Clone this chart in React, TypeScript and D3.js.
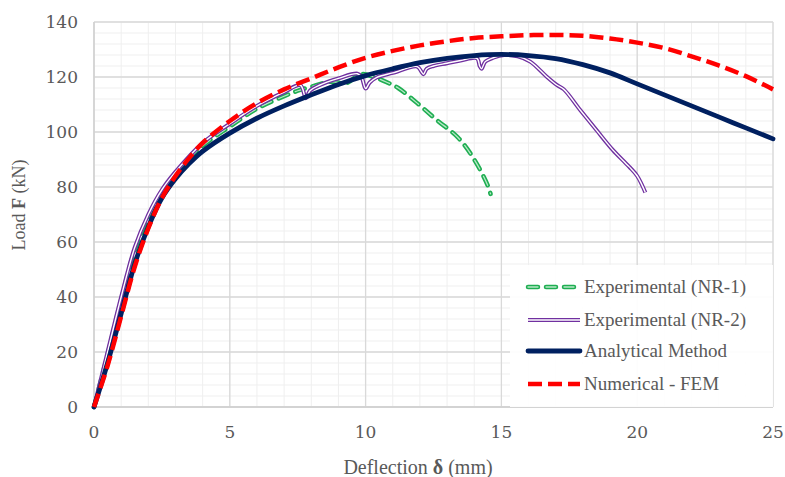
import React from "react";
import * as d3 from "d3";

type P = [number, number];

const xTicks = [0, 5, 10, 15, 20, 25];
const yTicks = [0, 20, 40, 60, 80, 100, 120, 140];

const nr1: P[] = [
  [0, 0], [0.5, 19], [1, 39], [1.5, 57], [2, 69], [2.5, 78], [3, 85], [4, 95], [5, 102],
  [6, 108.5], [7, 113], [7.5, 115], [8, 116.5], [8.7, 118.3], [9.3, 117.8], [9.8, 121],
  [10.3, 120], [10.8, 118], [11.2, 116], [11.9, 110.5], [12.6, 104.5], [13.4, 98], [14, 90],
  [14.5, 80.5], [14.6, 77.5],
];

const nr2: P[] = [
  [0, 0], [0.5, 20], [1, 40], [1.5, 58], [2, 70], [2.5, 79], [3, 85.5], [4, 96], [5, 103],
  [6, 109.5], [7, 114.5], [7.6, 117], [7.8, 112.3], [7.95, 115], [8.3, 117], [9, 119.5],
  [9.7, 121.2], [9.85, 120], [10, 115.8], [10.15, 118], [10.4, 119.8], [11, 121.5],
  [11.9, 123.8], [12.05, 122], [12.13, 121], [12.25, 123], [12.5, 124], [13, 125], [13.5, 126],
  [14.1, 126.8], [14.2, 124], [14.27, 123], [14.4, 125.5], [14.7, 127], [15.1, 128],
  [15.6, 127.5], [16.06, 125.6], [16.67, 120.1], [17.04, 117.1], [17.3, 115.5], [17.9, 108],
  [18.5, 100.7], [19.1, 93.5], [19.7, 87.4], [20.0, 84], [20.3, 78],
];

const analytical: P[] = [
  [0, 0], [0.5, 16], [1, 34], [1.5, 52], [2, 65.5], [2.5, 76], [3, 83], [3.5, 88.5], [4, 93],
  [5, 99.6], [6, 105], [7, 109.5], [8, 113.5], [9, 117.3], [10, 120.5], [11, 123], [12, 125.2],
  [13, 126.8], [14, 127.8], [15, 128.2], [16, 127.8], [17, 126.7], [18, 124.5], [19, 121.5],
  [20, 117.5], [21, 113.5], [22, 109.5], [23, 105.5], [24, 101.5], [25, 97.5],
];

const fem: P[] = [
  [0, 0], [0.5, 15], [1, 33], [1.5, 51], [2, 65], [2.5, 76], [3, 84], [3.5, 90.5], [4, 96],
  [5, 104], [6, 110.5], [7, 115.5], [8, 119.5], [9, 123.5], [10, 127], [11, 129.5],
  [12, 131.5], [13, 133], [14, 134.2], [15, 134.8], [16, 135.2], [17, 135.3], [18, 135],
  [19, 134], [20, 132.5], [21, 130.5], [22, 127.5], [23, 124.2], [24, 120.3], [25, 115.5],
];

const legendLabels = ["Experimental (NR-1)", "Experimental (NR-2)", "Analytical Method", "Numerical - FEM"];

const X0 = 94, X1 = 773, Y0 = 407, Y1 = 22;

export default function App() {
  const x = d3.scaleLinear().domain([0, 25]).range([X0, X1]);
  const y = d3.scaleLinear().domain([0, 140]).range([Y0, Y1]);
  const line = d3.line<P>().x((d) => x(d[0])).y((d) => y(d[1])).curve(d3.curveCatmullRom.alpha(0.5));

  const minorX = d3.range(0, 26, 1);
  const minorY = d3.range(0, 141, 4);

  const greenOuter = { stroke: "#1fae52", strokeWidth: 4.5, strokeDasharray: "10 8", strokeLinecap: "round" as const };
  const greenInner = { stroke: "#b9e8c8", strokeWidth: 1.3, strokeDasharray: "10 8", strokeLinecap: "round" as const };
  const purpleOuter = { stroke: "#7030a0", strokeWidth: 4 };
  const purpleInner = { stroke: "#ffffff", strokeWidth: 1.4 };
  const navy = { stroke: "#002060", strokeWidth: 4.8, strokeLinecap: "round" as const };
  const red = { stroke: "#ff0000", strokeWidth: 4.5, strokeDasharray: "14 6" };

  const legY = [287, 320, 351, 384];
  const lx0 = 528, lx1 = 580;

  return (
    <svg width={785} height={477} style={{ position: "absolute", left: 0, top: 0, background: "#fff" }}>
      <rect x={0} y={0} width={785} height={477} fill="#fff" />
      {minorX.map((v) => (
        <line key={"mx" + v} x1={x(v)} x2={x(v)} y1={Y0} y2={Y1} stroke="#efefef" strokeWidth={1} />
      ))}
      {minorY.map((v) => (
        <line key={"my" + v} x1={X0} x2={X1} y1={y(v)} y2={y(v)} stroke="#efefef" strokeWidth={1} />
      ))}
      {xTicks.map((v) => (
        <line key={"gx" + v} x1={x(v)} x2={x(v)} y1={Y0} y2={Y1} stroke="#d9d9d9" strokeWidth={1.3} />
      ))}
      {yTicks.map((v) => (
        <line key={"gy" + v} x1={X0} x2={X1} y1={y(v)} y2={y(v)} stroke="#d9d9d9" strokeWidth={1.3} />
      ))}
      <line x1={X0} x2={X0} y1={Y0} y2={Y1} stroke="#cfcfcf" strokeWidth={1.3} />
      <line x1={X0} x2={X1} y1={Y0} y2={Y0} stroke="#cfcfcf" strokeWidth={1.3} />

      {yTicks.map((v) => (
        <text key={"ty" + v} x={78} y={y(v)} dy="0.36em" textAnchor="end" fontFamily="DejaVu Serif" fontSize={17} fill="#595959">
          {v}
        </text>
      ))}
      {xTicks.map((v) => (
        <text key={"tx" + v} x={x(v)} y={438} textAnchor="middle" fontFamily="DejaVu Serif" fontSize={17} fill="#595959">
          {v}
        </text>
      ))}

      <g fill="none">
        <path d={line(nr1) || ""} {...greenOuter} />
        <path d={line(nr1) || ""} {...greenInner} />
        <path d={line(nr2) || ""} {...purpleOuter} />
        <path d={line(nr2) || ""} {...purpleInner} />
        <path d={line(analytical) || ""} {...navy} />
        <path d={line(fem) || ""} {...red} />
      </g>

      <rect x={510} y={265} width={263} height={142} fill="#ffffff" fillOpacity={0.92} />
      <g fill="none">
        <line x1={lx0} x2={lx1} y1={legY[0]} y2={legY[0]} {...greenOuter} />
        <line x1={lx0} x2={lx1} y1={legY[0]} y2={legY[0]} {...greenInner} />
        <line x1={lx0} x2={lx1} y1={legY[1]} y2={legY[1]} {...purpleOuter} />
        <line x1={lx0} x2={lx1} y1={legY[1]} y2={legY[1]} {...purpleInner} />
        <line x1={lx0} x2={lx1} y1={legY[2]} y2={legY[2]} {...navy} />
        <line x1={lx0} x2={lx1} y1={legY[3]} y2={legY[3]} {...red} />
      </g>
      {legendLabels.map((t, i) => (
        <text key={t} x={584} y={legY[i]} dy="0.34em" fontFamily="Liberation Serif" fontSize={19} fill="#595959">
          {t}
        </text>
      ))}

      <text x={418} y={474} textAnchor="middle" fontFamily="Liberation Serif" fontSize={20} fill="#595959">
        Deflection <tspan fontWeight="bold">δ</tspan> (mm)
      </text>
      <text
        transform="translate(25,205) rotate(-90)"
        textAnchor="middle"
        fontFamily="Liberation Serif"
        fontSize={18}
        fill="#595959"
      >
        Load <tspan fontWeight="bold">F</tspan> (kN)
      </text>
    </svg>
  );
}
